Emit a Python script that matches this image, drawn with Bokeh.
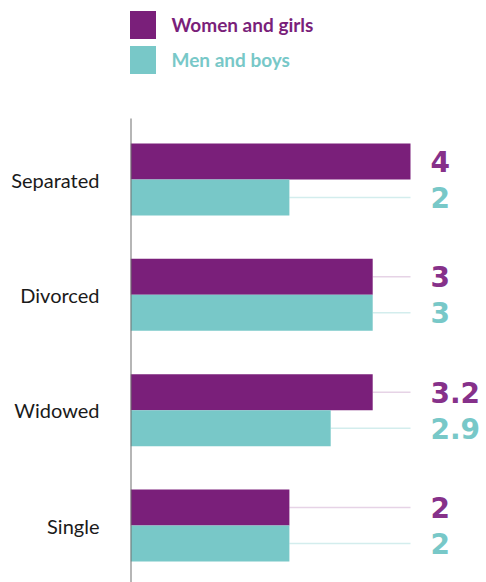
from bokeh.plotting import figure
from bokeh.models import Range1d, FixedTicker, Legend, LegendItem, ColumnDataSource
from bokeh.transform import dodge
from bokeh.core.properties import value
from bokeh.embed import file_html
from bokeh.resources import INLINE

categories = ["Separated", "Divorced", "Widowed", "Single"]
women_bar = [4.0, 3.46, 3.46, 2.27]
men_bar = [2.27, 3.46, 2.86, 2.27]
women_labels = ["4", "3", "3.2", "2"]
men_labels = ["2", "3", "2.9", "2"]
series_names = ["Women and girls", "Men and boys"]

PURPLE = "#7a1f7a"
PURPLE_TXT = "#86318a"
TEAL = "#78c8c8"
PURPLE_LINE = "#e6d3e6"
TEAL_LINE = "#d3eded"
FONT = "Lato"
NUM_FONT = "DejaVu Sans"

idx = list(range(len(categories)))
vmax = max(women_bar + men_bar)
src = ColumnDataSource(dict(
    y=idx, women=women_bar, men=men_bar,
    wl=women_labels, ml=men_labels,
    vmax=[vmax] * len(idx),
))

Y_TOP = -1.552      # top of the plotting frame (legend area above the categories)
AXIS_TOP = -0.529   # where the category axis line starts
Y_BOTTOM = 3.494

W, H = 486, 582
LEFT = 130
p = figure(width=W, height=H, output_backend="svg", toolbar_location=None,
           x_axis_location=None, y_axis_location="left",
           x_range=Range1d(0, (W - LEFT) / 70), y_range=Range1d(Y_BOTTOM, Y_TOP),
           min_border_left=LEFT, min_border_right=0, min_border_bottom=0,
           min_border_top=0)
p.outline_line_color = None
p.grid.visible = False

half = 0.156
# connector lines
p.segment(x0="women", x1="vmax", y0=dodge("y", -half), y1=dodge("y", -half),
          source=src, line_color=PURPLE_LINE, line_width=1.5)
p.segment(x0="men", x1="vmax", y0=dodge("y", half), y1=dodge("y", half),
          source=src, line_color=TEAL_LINE, line_width=1.5)

rw = p.hbar(y=dodge("y", -half), right="women", left=0, height=2 * half,
            source=src, fill_color=PURPLE, line_color=None)
rm = p.hbar(y=dodge("y", half), right="men", left=0, height=2 * half,
            source=src, fill_color=TEAL, line_color=None)

# vertical category axis line
p.segment(x0=[0], x1=[0], y0=[AXIS_TOP], y1=[Y_BOTTOM], line_color="#6e6e6e",
          line_width=2)

p.text(x="vmax", y=dodge("y", -half), text="wl", source=src, x_offset=20,
       text_baseline="middle", text_align="left", text_color=PURPLE_TXT,
       text_font=value(NUM_FONT), text_font_style="bold", text_font_size="28px")
p.text(x="vmax", y=dodge("y", half), text="ml", source=src, x_offset=20,
       text_baseline="middle", text_align="left", text_color=TEAL,
       text_font=value(NUM_FONT), text_font_style="bold", text_font_size="28px")

ax = p.yaxis[0]
ax.ticker = FixedTicker(ticks=idx)
ax.major_label_overrides = {i: c for i, c in zip(idx, categories)}
ax.major_tick_line_color = None
ax.major_tick_out = 0
ax.major_tick_in = 0
ax.minor_tick_line_color = None
ax.axis_line_color = None
ax.major_label_standoff = 31
ax.major_label_text_font = FONT
ax.major_label_text_font_size = "20px"
ax.major_label_text_color = "#1a1a1a"

for r, name, col, loc in [(rw, series_names[0], PURPLE, (-6.5, 540.5)),
                          (rm, series_names[1], TEAL, (-6.5, 505.5))]:
    lg = Legend(items=[LegendItem(label=name, renderers=[r])],
                location=loc, orientation="vertical",
                glyph_width=35, glyph_height=35, label_height=35,
                label_standoff=13, padding=0, margin=0, spacing=0,
                border_line_color=None, background_fill_alpha=0,
                label_text_font=FONT, label_text_font_style="bold",
                label_text_font_size="19px", label_text_color=col,
                label_text_baseline="middle")
    p.add_layout(lg, "center")

open("out.html", "w").write(file_html(p, INLINE))
